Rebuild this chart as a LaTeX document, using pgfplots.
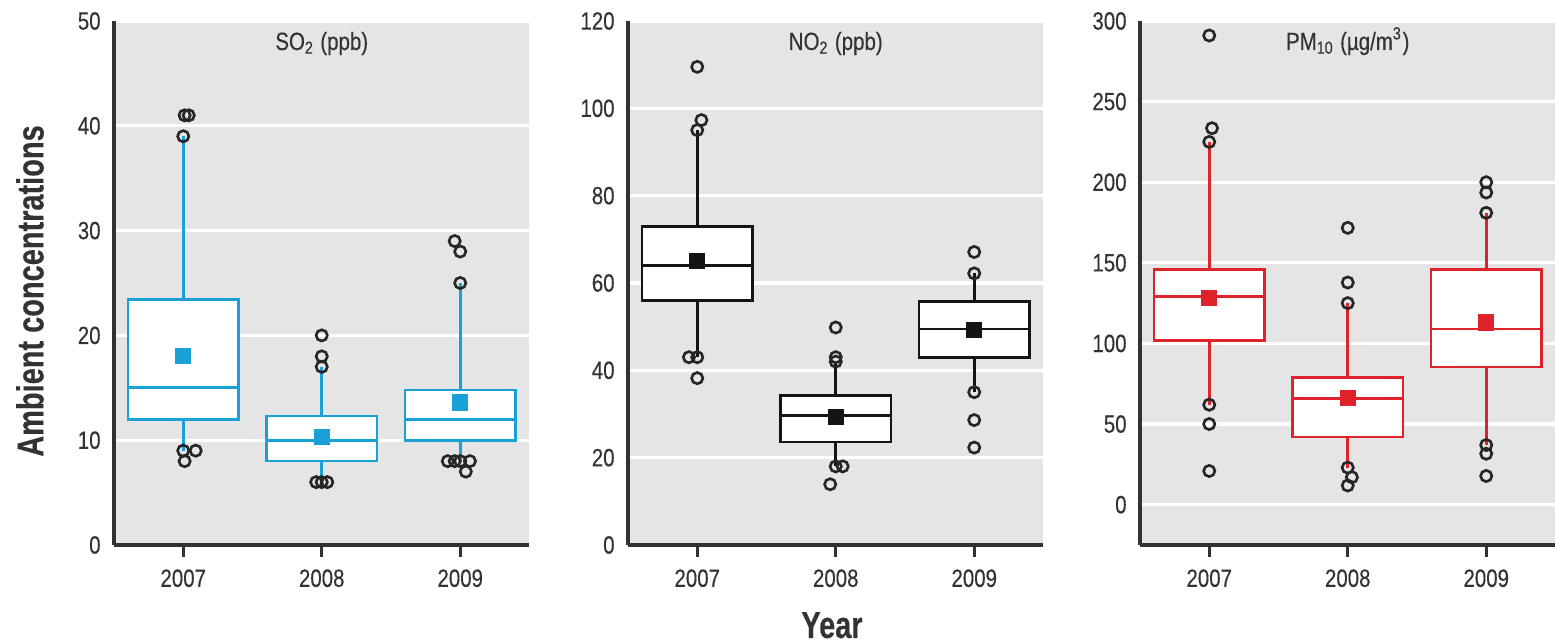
\documentclass[border=0pt]{standalone}
\usepackage{fontspec}
\setmainfont{Liberation Sans}[FakeStretch=0.82, FakeBold=0.3]
\usepackage{pgfplots}
\pgfplotsset{compat=1.18}
\usepgfplotslibrary{statistics}
\definecolor{bggray}{RGB}{229,229,229}
\definecolor{so2col}{RGB}{25,160,215}
\definecolor{pmcol}{RGB}{222,35,42}
\definecolor{no2col}{RGB}{20,20,20}
\definecolor{axcol}{RGB}{50,50,50}
\definecolor{txtcol}{RGB}{50,50,55}

\pgfplotsset{
 panel/.style={
  scale only axis, width=4.155cm, height=5.24cm,
  xmin=-0.5, xmax=2.5,
  xtick={0,1,2}, xticklabels={2007,2008,2009},
  axis x line*=bottom, axis y line*=left,
  axis line style={axcol, line width=0.9pt, -},
  axis background/.style={fill=bggray},
  ymajorgrids, major grid style={white, line width=0.9pt},
  tick align=outside,
  major tick length=0.12cm,
  xtick style={axcol, line width=0.8pt},
  ytick style={draw=none},
  tick label style={font=\fontsize{7.1}{8}\selectfont, text=txtcol},
  yticklabel style={xshift=0.11cm},
  /pgf/number format/assume math mode=true,
  clip=false,
 },
 outl/.style={only marks, mark=o, mark size=1.6pt, mark options={line width=0.75pt, draw=black!85, fill=none}},
}
\newcommand{\bx}[7]{%
 \addplot[#1, line width=0.75pt, fill=white, solid, mark=none,
   boxplot/draw direction=y,
   boxplot prepared={draw position=#2, lower whisker=#3, lower quartile=#4,
   median=#5, upper quartile=#6, upper whisker=#7, box extend=0.8, whisker extend=0}]
   coordinates {};
}
\newcommand{\ptitle}[1]{\node[anchor=base, font=\fontsize{7.1}{8}\selectfont, text=txtcol] at ([yshift=-0.29cm]rel axis cs:0.5,1) {#1};}

\begin{document}
\begin{tikzpicture}
\useasboundingbox (0,0) rectangle (15.55,6.42);

% ---------------- SO2 ----------------
\begin{axis}[panel, at={(1.14cm,0.97cm)}, anchor=south west,
  ymin=0, ymax=50, ytick={0,10,20,30,40,50}]
\bx{so2col}{0}{9}{12}{15}{23.4}{39}
\bx{so2col}{1}{6}{8}{10}{12.3}{17}
\bx{so2col}{2}{8}{10}{12}{14.8}{25}
\addplot[only marks, mark=square*, mark size=2.1pt, so2col] coordinates {(0,18) (1,10.3) (2,13.6)};
\addplot[outl] coordinates {
 (0.01,41) (0.04,41) (0,39) (0,9) (0.09,9) (0.01,8)
 (1,20) (1,18) (1,17) (0.96,6) (1,6) (1.04,6)
 (1.96,29) (2,28) (2,25) (1.91,8) (1.96,8) (2,8) (2.07,8) (2.04,7)
};
\ptitle{SO\textsubscript{2} (ppb)}
\end{axis}

% ---------------- NO2 ----------------
\begin{axis}[panel, at={(6.28cm,0.97cm)}, anchor=south west,
  ymin=0, ymax=120, ytick={0,20,40,60,80,100,120}]
\bx{no2col}{0}{43}{56}{64}{73}{95}
\bx{no2col}{1}{18}{23.6}{29.7}{34.2}{42}
\bx{no2col}{2}{35}{43}{49.5}{55.7}{62.2}
\addplot[only marks, mark=square*, mark size=2.1pt, no2col] coordinates {(0,65) (1,29.4) (2,49.2)};
\addplot[outl] coordinates {
 (0,109.5) (0.03,97.3) (0,95) (-0.06,43) (0,43) (0,38.2)
 (1,49.8) (1,43) (1,42) (1,18) (1.05,18) (0.96,13.9)
 (2,67.1) (2,62.2) (2,35) (2,28.6) (2,22.3)
};
\ptitle{NO\textsubscript{2} (ppb)}
\end{axis}

% ---------------- PM10 ----------------
\begin{axis}[panel, at={(11.40cm,0.97cm)}, anchor=south west,
  ymin=-25, ymax=300, ytick={0,50,100,150,200,250,300}]
\bx{pmcol}{0}{62}{102}{129}{146}{225}
\bx{pmcol}{1}{23}{42}{66}{79}{125}
\bx{pmcol}{2}{37}{85.5}{109}{146}{181}
\addplot[only marks, mark=square*, mark size=2.1pt, pmcol] coordinates {(0,128) (1,66) (2,113)};
\addplot[outl] coordinates {
 (0,291) (0.02,233.5) (0,225) (0,62) (0,50) (0,20.9)
 (1,171.7) (1,137.8) (1,125) (1,23) (1.03,17) (1,11.9)
 (2,200) (2,193.6) (2,181) (2,37) (2,31.6) (2,17.8)
};
\ptitle{PM\textsubscript{10} (µg/m\textsuperscript{3})}
\end{axis}

\node[rotate=90, font=\fontsize{10.7}{12}\bfseries\addfontfeature{FakeStretch=0.77}, text=txtcol] at (0.30,3.51) {Ambient concentrations};
\node[anchor=base, font=\fontsize{10.7}{12}\bfseries\addfontfeature{FakeStretch=0.77}, text=txtcol] at (8.32,0.04) {Year};
\end{tikzpicture}
\end{document}
